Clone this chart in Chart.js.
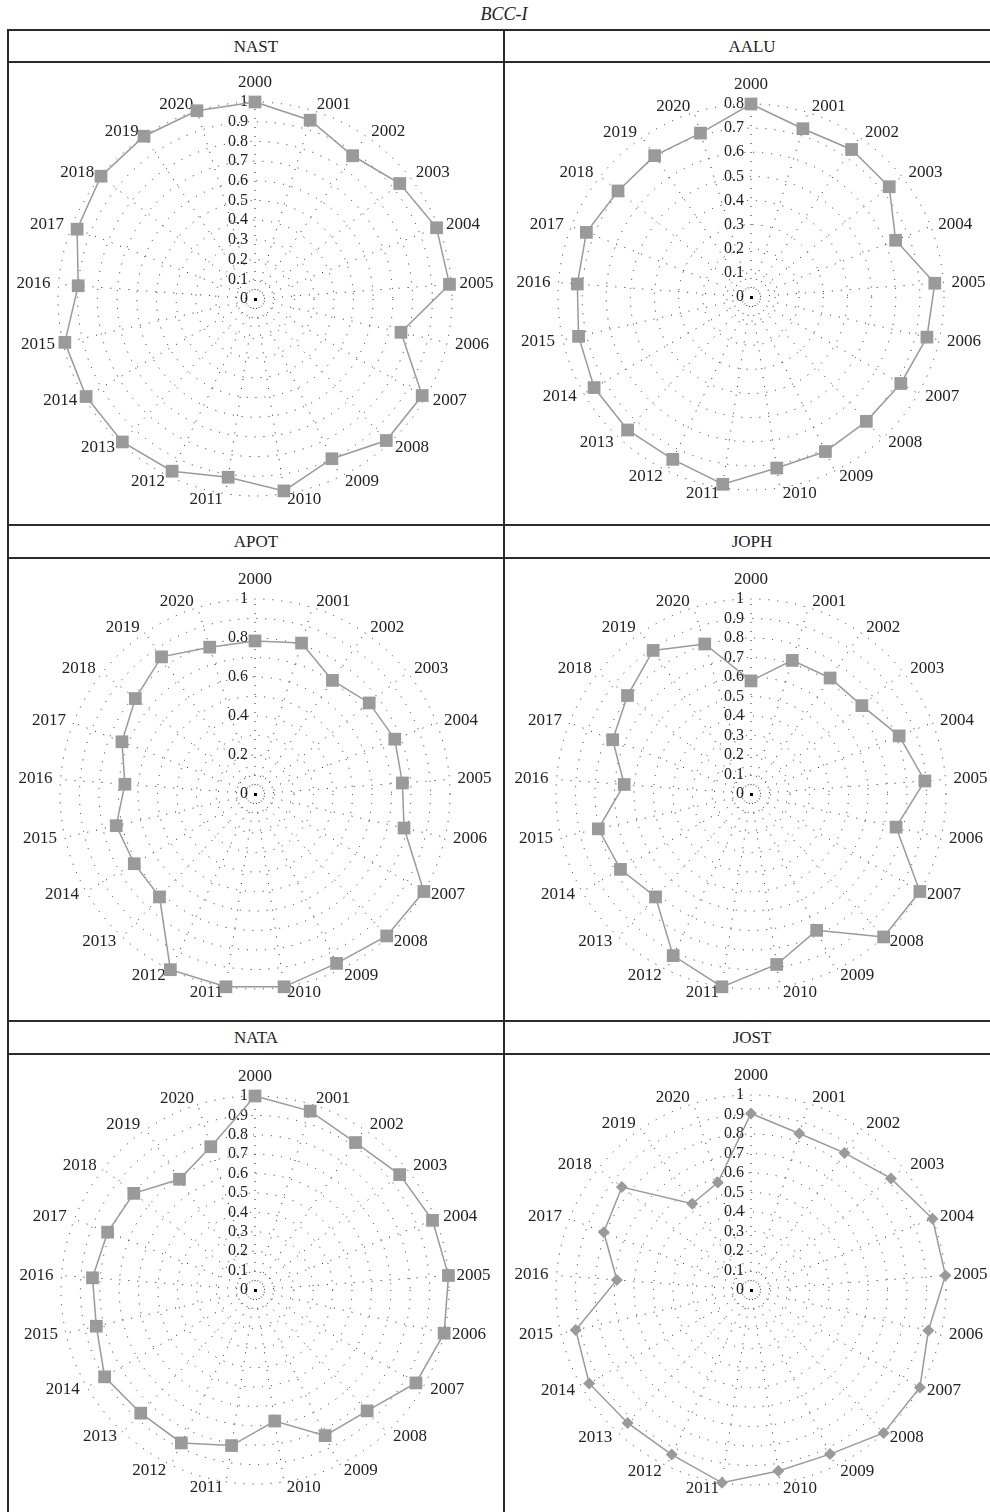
<!DOCTYPE html>
<html>
<head>
<meta charset="utf-8">
<title>BCC-I</title>
<script src="https://cdn.jsdelivr.net/npm/chart.js@4.4.1/dist/chart.umd.min.js"></script>
<style>
body { margin:0; width:990px; height:1512px; overflow:hidden; background:#fff; position:relative;
       font-family:"Liberation Serif", "Times New Roman", serif; color:#222; }
#title { position:absolute; left:0; width:1008px; top:4px; text-align:center; font-style:italic; font-size:18px; }
.hline { position:absolute; left:7px; width:1000px; height:2px; background:#2b2b2b; z-index:2; }
.vline { position:absolute; top:29px; width:2px; height:1500px; background:#2b2b2b; z-index:2; }
.head { position:absolute; width:496px; height:31px; line-height:31px; text-align:center; font-size:17px; }
canvas { position:absolute; }
</style>
</head>
<body>
<div id="title">BCC-I</div>

<div class="head" style="left:8px; top:31px;">NAST</div>
<div class="head" style="left:504px; top:31px;">AALU</div>
<div class="head" style="left:8px; top:526px;">APOT</div>
<div class="head" style="left:504px; top:526px;">JOPH</div>
<div class="head" style="left:8px; top:1022px;">NATA</div>
<div class="head" style="left:504px; top:1022px;">JOST</div>

<canvas id="nast" width="496" height="463" style="left:8px; top:62px;"></canvas>
<canvas id="aalu" width="496" height="463" style="left:504px; top:62px;"></canvas>
<canvas id="apot" width="496" height="463" style="left:8px; top:558px;"></canvas>
<canvas id="joph" width="496" height="463" style="left:504px; top:558px;"></canvas>
<canvas id="nata" width="496" height="463" style="left:8px; top:1054px;"></canvas>
<canvas id="jost" width="496" height="463" style="left:504px; top:1054px;"></canvas>

<div class="hline" style="top:29px;"></div>
<div class="hline" style="top:61px;"></div>
<div class="hline" style="top:524px;"></div>
<div class="hline" style="top:557px;"></div>
<div class="hline" style="top:1020px;"></div>
<div class="hline" style="top:1053px;"></div>
<div class="vline" style="left:7px;"></div>
<div class="vline" style="left:503px;"></div>
<div class="vline" style="left:999px;"></div>

<script>
// years round the radar
const years = ['2000','2001','2002','2003','2004','2005','2006','2007','2008','2009','2010',
               '2011','2012','2013','2014','2015','2016','2017','2018','2019','2020'];

// efficiency values
const nast = [1.0, 0.95, 0.88, 0.94, 0.99, 0.99, 0.76, 0.98, 0.98, 0.90, 0.985,
              0.915, 0.97, 0.99, 0.99, 0.99, 0.90, 0.97, 1.0, 1.0, 1.0];
const aalu = [0.80, 0.73, 0.74, 0.733, 0.644, 0.764, 0.748, 0.717, 0.703, 0.711, 0.717,
              0.785, 0.747, 0.752, 0.751, 0.733, 0.722, 0.733, 0.705, 0.709, 0.711];
const apot = [0.785, 0.81, 0.705, 0.749, 0.77, 0.758, 0.784, 1.0, 0.993, 0.964, 1.0,
              1.0, 1.0, 0.72, 0.715, 0.73, 0.669, 0.733, 0.785, 0.851, 0.788];
const joph = [0.58, 0.717, 0.72, 0.727, 0.816, 0.894, 0.763, 1.0, 1.0, 0.776, 0.884,
              1.0, 0.92, 0.72, 0.773, 0.803, 0.652, 0.762, 0.81, 0.891, 0.805];
const nata = [1.0, 0.965, 0.92, 0.954, 0.983, 1.0, 1.0, 0.958, 0.85, 0.833, 0.683,
              0.811, 0.875, 0.866, 0.895, 0.839, 0.84, 0.816, 0.799, 0.691, 0.773];
const jost = [0.905, 0.84, 0.851, 0.918, 1.0, 1.0, 0.933, 1.0, 1.0, 0.934, 0.939,
              1.0, 0.937, 0.93, 0.958, 0.922, 0.69, 0.811, 0.847, 0.535, 0.577];

// tick labels on the vertical axis
const ticksTenths = ['0','0.1','0.2','0.3','0.4','0.5','0.6','0.7','0.8','0.9','1'];
const ticksTo08 = ['0','0.1','0.2','0.3','0.4','0.5','0.6','0.7','0.8'];
const ticksFifths = ['0','0.2','0.4','0.6','0.8','1'];

// texts drawn by hand: tick labels left of the axis, years outside, dot in middle
const radarText = {
  id: 'radarText',
  beforeDatasetsDraw(chart, args, opts) {
    const sc = chart.scales.r;
    const ctx = chart.ctx;
    const R = sc.drawingArea;
    ctx.save();
    ctx.fillStyle = '#222';
    ctx.textBaseline = 'middle';

    ctx.font = '16px "Liberation Serif"';
    ctx.textAlign = 'right';
    opts.ticks.forEach(t => {
      const d = sc.getDistanceFromCenterForValue(parseFloat(t));
      ctx.fillText(t, sc.xCenter - 7, sc.yCenter - d);
    });

    ctx.font = '17px "Liberation Serif"';
    chart.data.labels.forEach((lab, i) => {
      const p = sc.getPointPosition(i, R + 6);
      if (i === 0) {
        ctx.textAlign = 'center';
        ctx.fillText(lab, p.x, p.y - 13);
        return;
      }
      const right = p.x > sc.xCenter;
      ctx.textAlign = right ? 'left' : 'right';
      ctx.fillText(lab, p.x + (right ? 2 : -2), p.y);
    });

    ctx.fillStyle = '#000';
    ctx.fillRect(sc.xCenter - 1, sc.yCenter - 1, 3, 3);
    ctx.restore();
  }
};

function makeRadar(id, values, max, tickLabels, style, size, cx, cy, R) {
  const W = 496, H = 463;
  return new Chart(document.getElementById(id), {
    type: 'radar',
    data: {
      labels: years,
      datasets: [{
        data: values,
        borderColor: '#9a9a9a',
        borderWidth: 1.5,
        fill: false,
        pointStyle: style,
        pointRadius: size,
        pointBackgroundColor: '#9a9a9a',
        pointBorderWidth: 0
      }]
    },
    options: {
      responsive: false,
      animation: false,
      devicePixelRatio: 1,
      layout: { padding: { left: cx - R, right: W - cx - R, top: cy - R, bottom: H - cy - R } },
      plugins: {
        legend: { display: false },
        tooltip: { enabled: false },
        radarText: { ticks: tickLabels }
      },
      scales: {
        r: {
          min: 0,
          max: max,
          ticks: { stepSize: 0.1, display: false },
          pointLabels: { display: false },
          grid: { circular: true, color: '#222', lineWidth: 1, borderDash: [1, 8] },
          border: { dash: [1, 8] },
          angleLines: { color: '#222', lineWidth: 1, borderDash: [1, 8] }
        }
      }
    },
    plugins: [radarText]
  });
}

makeRadar('nast', nast, 1, ticksTenths, 'rect', 9, 247, 237, 197);
makeRadar('aalu', aalu, 0.8, ticksTo08, 'rect', 9, 247, 235, 193);
makeRadar('apot', apot, 1, ticksFifths, 'rect', 9, 247, 236, 195);
makeRadar('joph', joph, 1, ticksTenths, 'rect', 9, 247, 236, 195);
makeRadar('nata', nata, 1, ticksTenths, 'rect', 9, 247, 236, 194);
makeRadar('jost', jost, 1, ticksTenths, 'rectRot', 6, 247, 236, 195);
</script>
</body>
</html>
